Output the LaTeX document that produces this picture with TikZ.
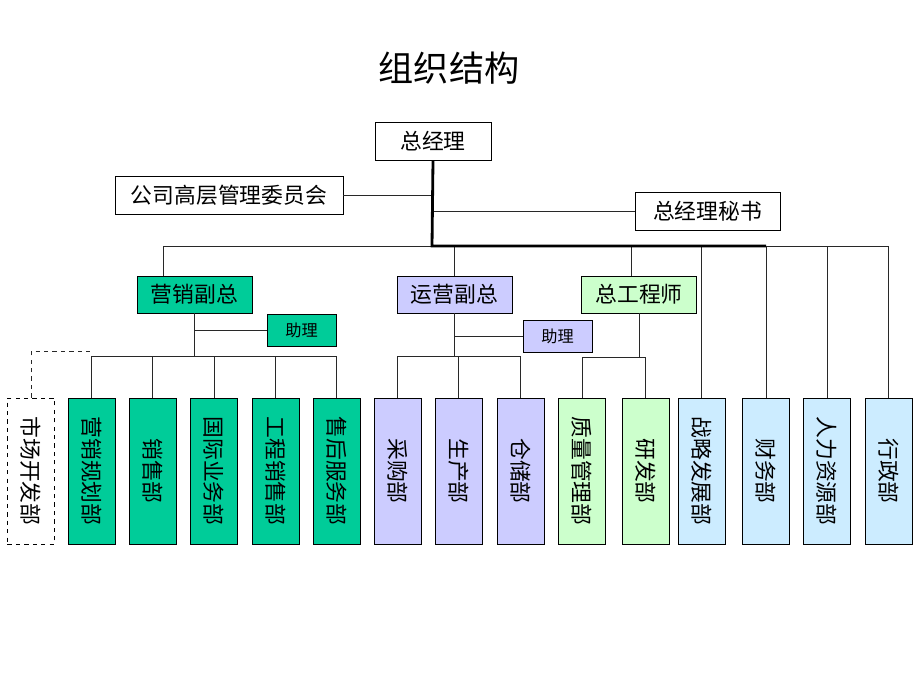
\documentclass[tikz,border=0pt]{standalone}
\usepackage{fontspec}
\setmainfont{Noto Sans CJK SC}
\usepackage{graphicx}
\usetikzlibrary{calc}
\definecolor{salesgreen}{RGB}{0,204,153}
\definecolor{oplilac}{RGB}{204,204,255}
\definecolor{engmint}{RGB}{204,255,204}
\definecolor{staffblue}{RGB}{204,236,255}
\definecolor{linegray}{RGB}{40,40,40}
\begin{document}
\begin{tikzpicture}[x=0.025cm, y=-0.025cm,
  box/.style={draw=black, line width=0.6pt, inner sep=0pt, minimum height=0.95cm, font=\fontsize{15.5}{18}\selectfont},
  vp/.style={box, minimum width=2.875cm, minimum height=0.925cm},
  aide/.style={box, minimum width=1.725cm, minimum height=0.8cm, font=\fontsize{11.5}{14}\selectfont},
  dept/.style={box, minimum width=1.175cm, minimum height=3.65cm},
  link/.style={draw=linegray, line width=0.7pt},
  trunk/.style={draw=black, line width=2pt}]
\useasboundingbox (0,0) rectangle (920,690);

\node (title) at (449,68) {\fontsize{25}{30}\selectfont 组织结构};

% top
\node[box, minimum width=2.9cm] (gm) at (433,141) {总经理};
\node[box, minimum width=5.7cm] (board) at (229,195) {公司高层管理委员会};
\node[box, minimum width=3.625cm] (sec) at (707.5,211) {总经理秘书};
\coordinate (hub) at (432,246);

% second row
\node[vp, fill=salesgreen] (mktvp) at (194.5,294.5) {营销副总};
\node[vp, fill=oplilac] (opvp) at (454.5,294.5) {运营副总};
\node[vp, fill=engmint] (chief) at (639,294.5) {总工程师};
\node[aide, fill=salesgreen] (mktast) at (301.5,330) {助理};
\node[aide, fill=oplilac] (opast) at (557.5,336.5) {助理};

% departments
\node[dept, dashed] (mdev) at (31,471) {\rotatebox{-90}{市场开发部}};
\node[dept, fill=salesgreen] (plan) at (91.5,471) {\rotatebox{-90}{营销规划部}};
\node[dept, fill=salesgreen] (sale) at (152.5,471) {\rotatebox{-90}{销售部}};
\node[dept, fill=salesgreen] (intl) at (214,471) {\rotatebox{-90}{国际业务部}};
\node[dept, fill=salesgreen] (proj) at (275.5,471) {\rotatebox{-90}{工程销售部}};
\node[dept, fill=salesgreen] (svc) at (336.5,471) {\rotatebox{-90}{售后服务部}};
\node[dept, fill=oplilac] (buy) at (397.5,471) {\rotatebox{-90}{采购部}};
\node[dept, fill=oplilac] (prod) at (458.5,471) {\rotatebox{-90}{生产部}};
\node[dept, fill=oplilac] (store) at (520.5,471) {\rotatebox{-90}{仓储部}};
\node[dept, fill=engmint] (qual) at (582,471) {\rotatebox{-90}{质量管理部}};
\node[dept, fill=engmint] (rnd) at (645.5,471) {\rotatebox{-90}{研发部}};
\node[dept, fill=staffblue] (strat) at (701.5,471) {\rotatebox{-90}{战略发展部}};
\node[dept, fill=staffblue] (fin) at (766,471) {\rotatebox{-90}{财务部}};
\node[dept, fill=staffblue] (hr) at (827,471) {\rotatebox{-90}{人力资源部}};
\node[dept, fill=staffblue] (adm) at (888.5,471) {\rotatebox{-90}{行政部}};

% top links
\draw[link] (board.east) -- (board.east -| hub);
\draw[link] (sec.west) -- (sec.west -| hub);
\draw[link] ($(mktvp.north)+(-31,0)$) |- (hub);
\draw[link] (hub) -| (adm.north);
\draw[link] (opvp.north) -- (opvp.north |- hub);
\draw[link] ($(chief.north)+(-8,0)$) |- (hub);
\draw[link] (strat.north) -- (strat.north |- hub);
\draw[link] (fin.north) -- (fin.north |- hub);
\draw[link] (hr.north) -- (hr.north |- hub);
\draw[trunk] (gm.south) -- (hub) -- (hub -| fin.north);

% sales branch
\coordinate (mkthub) at (194.5,356);
\draw[link] (mktvp.south) -- (mkthub);
\draw[link] (mktast.west) -- (mktast.west -| mkthub);
\draw[link] (mkthub) -| (plan.north);
\draw[link] (mkthub) -| (sale.north);
\draw[link] (mkthub) -| (intl.north);
\draw[link] (mkthub) -| (proj.north);
\draw[link] (mkthub) -| (svc.north);
\draw[link, dashed] (mdev.north) |- ($(plan.north)+(0,-46)$);

% operations branch
\coordinate (ophub) at (454.5,356);
\draw[link] (opvp.south) -- (ophub);
\draw[link] (opast.west) -- (opast.west -| ophub);
\draw[link] (ophub) -| (buy.north);
\draw[link] (ophub) -| (prod.north);
\draw[link] (ophub) -| (store.north);

% engineering branch
\coordinate (enghub) at (639,357);
\draw[link] (chief.south) -- (enghub);
\draw[link] (enghub) -| (qual.north);
\draw[link] (enghub) -| (rnd.north);

\end{tikzpicture}
\end{document}
